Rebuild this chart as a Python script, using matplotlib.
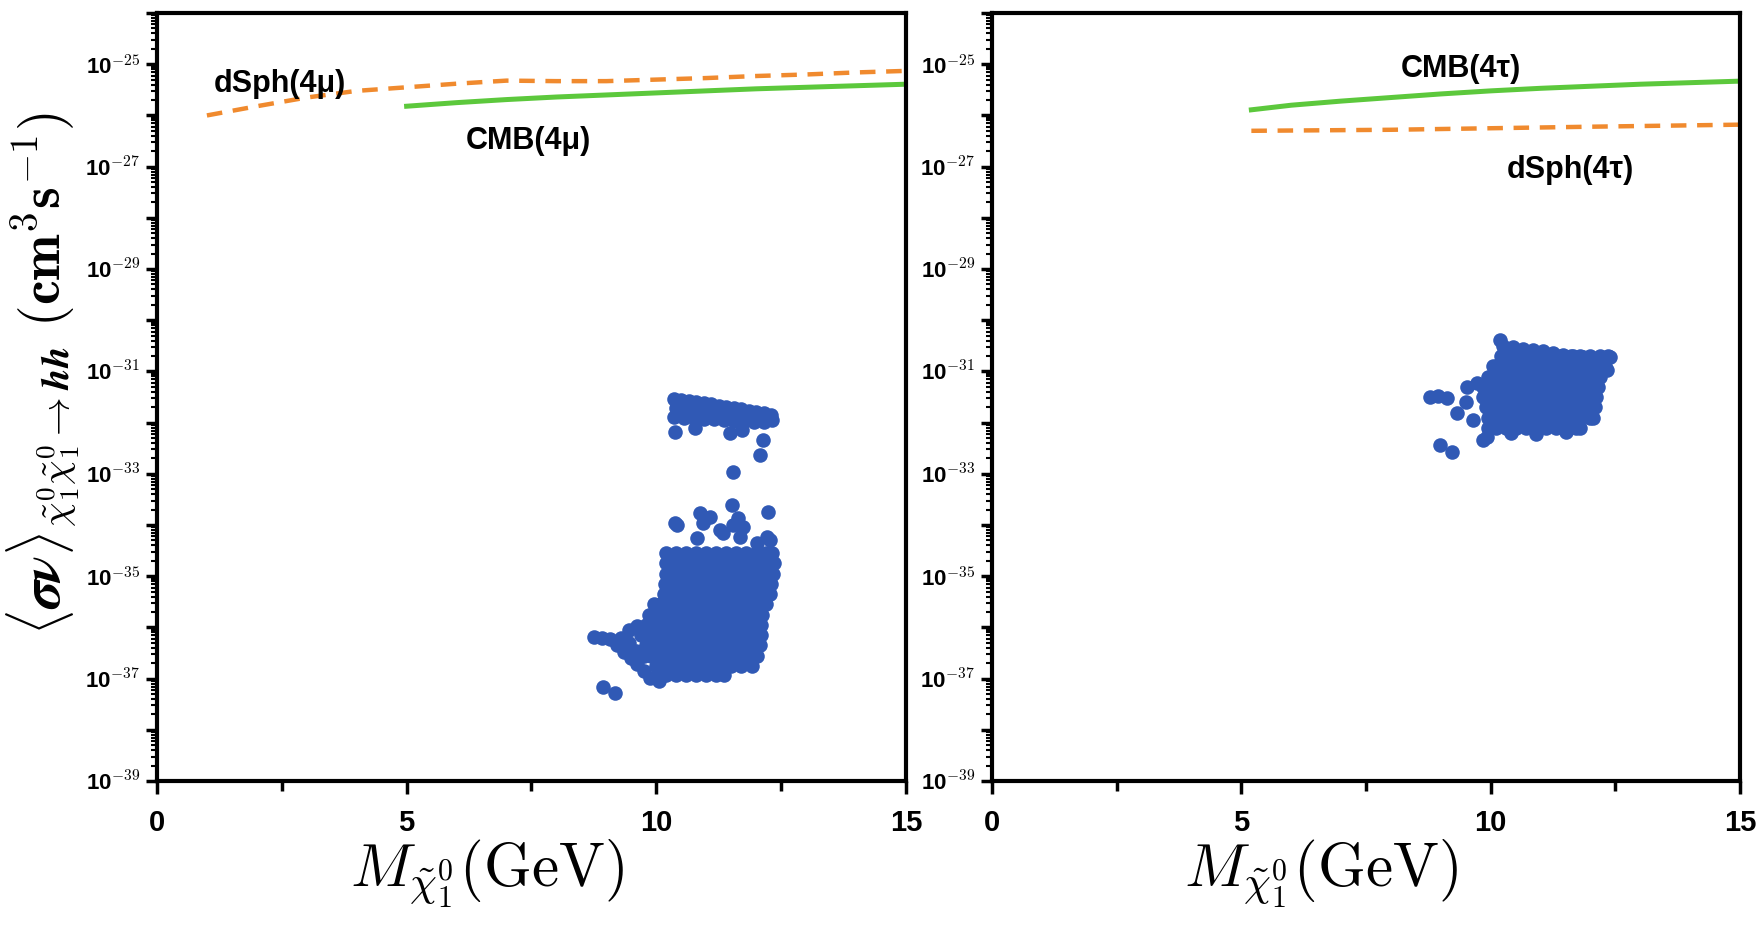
import numpy as np
import matplotlib
matplotlib.use("Agg")
import matplotlib.pyplot as plt
from matplotlib.ticker import FixedLocator, FuncFormatter, LogLocator, MultipleLocator

plt.rcParams.update({"mathtext.fontset": "cm",
                     "font.family": ["Liberation Sans Narrow", "Liberation Sans", "DejaVu Sans"],
                     "font.weight": "bold"})

BLUE, ORANGE, GREEN = "#3059b5", "#f08a2e", "#5cc83c"

# exclusion curves: mass (GeV) vs log10 <sigma v>
dsph_mu_m = [1, 2, 3, 4, 5, 6, 7, 8, 9, 10, 11, 12, 13, 14, 15]
dsph_mu_lg = [-26.0, -25.82, -25.65, -25.52, -25.45, -25.38, -25.32, -25.33, -25.33,
              -25.3, -25.27, -25.23, -25.2, -25.16, -25.13]
cmb_mu_m = [5, 6, 7, 8, 9, 10, 11, 12, 13, 14, 15]
cmb_mu_lg = [-25.82, -25.75, -25.69, -25.64, -25.6, -25.56, -25.52, -25.48, -25.45, -25.42, -25.39]
cmb_tau_m = [5.2, 6, 7, 8, 9, 10, 11, 12, 13, 14, 15]
cmb_tau_lg = [-25.89, -25.8, -25.72, -25.65, -25.58, -25.52, -25.47, -25.43, -25.39, -25.36, -25.33]
dsph_tau_m = [5.2, 8, 10, 12, 15]
dsph_tau_lg = [-26.3, -26.28, -26.25, -26.22, -26.18]

# scan points, 4mu panel: rows of masses sharing one log10 <sigma v>
mu_rows = [
    (-34.55, [10.2, 10.4, 10.6, 10.8, 11.0, 11.2, 11.4, 11.6, 11.8, 12.0, 12.2, 12.32]),
    (-34.75, [10.2, 10.3, 10.5, 10.7, 10.9, 11.1, 11.3, 11.5, 11.7, 11.9, 12.1, 12.3, 12.36]),
    (-34.95, [10.2, 10.4, 10.6, 10.8, 11.0, 11.2, 11.4, 11.6, 11.8, 12.0, 12.2, 12.34]),
    (-35.15, [10.18, 10.3, 10.5, 10.7, 10.9, 11.1, 11.3, 11.5, 11.7, 11.9, 12.1, 12.3]),
    (-35.35, [10.15, 10.4, 10.6, 10.8, 11.0, 11.2, 11.4, 11.6, 11.8, 12.0, 12.2, 12.28]),
    (-35.55, [9.95, 10.1, 10.3, 10.5, 10.7, 10.9, 11.1, 11.3, 11.5, 11.7, 11.9, 12.1, 12.2]),
    (-35.75, [9.85, 10.0, 10.2, 10.4, 10.6, 10.8, 11.0, 11.2, 11.4, 11.6, 11.8, 12.0, 12.12]),
    (-35.95, [9.8, 9.9, 10.1, 10.3, 10.5, 10.7, 10.9, 11.1, 11.3, 11.5, 11.7, 11.9, 12.1]),
    (-36.15, [9.75, 9.95, 10.0, 10.2, 10.4, 10.6, 10.8, 11.0, 11.2, 11.4, 11.6, 11.8, 12.0, 12.1]),
    (-36.35, [9.8, 9.9, 10.1, 10.3, 10.5, 10.7, 10.9, 11.1, 11.3, 11.5, 11.7, 11.9, 12.08]),
    (-36.55, [9.9, 10.0, 10.2, 10.4, 10.6, 10.8, 11.0, 11.2, 11.4, 11.6, 11.8, 12.02]),
    (-36.75, [10.0, 10.1, 10.3, 10.5, 10.7, 10.9, 11.1, 11.3, 11.5, 11.7, 11.92]),
    (-36.92, [10.05, 10.2, 10.4, 10.6, 10.8, 11.0, 11.2, 11.35]),
]
# upper band and scattered points of the 4mu panel
mu_extra_m = [10.35, 10.5, 10.65, 10.8, 10.95, 11.1, 11.25, 11.4, 11.55, 11.7, 11.85, 12.0, 12.15, 12.3,
              10.4, 10.6, 10.8, 11.0, 11.2, 11.4, 11.6, 11.8, 12.0, 12.2, 12.32,
              10.35, 10.55, 10.75, 10.95, 11.15, 11.35, 11.55, 11.75, 11.95, 12.15,
              10.37, 10.78, 11.48, 11.72, 12.14, 12.08, 11.54, 11.52, 12.24, 10.88, 11.08, 10.37,
              11.64, 11.74, 11.28, 12.22, 12.02, 10.82, 10.41, 10.94, 11.34, 11.68, 12.28, 11.54,
              8.75, 8.92, 9.08, 9.22, 9.35, 9.5, 9.62, 9.75, 9.88, 9.3, 9.45, 9.6, 9.45, 9.62,
              9.7, 9.75, 10.05, 8.93, 9.17]
mu_extra_lg = [-31.53, -31.55, -31.57, -31.6, -31.62, -31.64, -31.67, -31.69, -31.72, -31.74, -31.77,
               -31.79, -31.82, -31.85,
               -31.72, -31.74, -31.76, -31.78, -31.8, -31.82, -31.84, -31.86, -31.88, -31.9, -31.95,
               -31.88, -31.9, -31.9, -31.93, -31.93, -31.95, -31.96, -31.97, -31.98, -31.98,
               -32.18, -32.1, -32.2, -32.14, -32.34, -32.63, -32.96, -33.61, -33.75, -33.77, -33.84,
               -33.96, -33.86, -34.04, -34.1, -34.23, -34.35, -34.25, -34.0, -33.96, -34.16, -34.23,
               -34.29, -34.0, -36.18, -36.2, -36.22, -36.35, -36.48, -36.6, -36.72, -36.85, -36.98,
               -36.2, -36.3, -36.45, -36.05, -35.98, -36.15, -36.55, -37.05, -37.17, -37.28]

# scan points, 4tau panel
tau_rows = [
    (-30.7, [10.2, 10.4, 10.6, 10.8, 11.0, 11.2, 11.4, 11.6, 11.8, 12.0, 12.2, 12.36]),
    (-30.9, [10.05, 10.1, 10.3, 10.5, 10.7, 10.9, 11.1, 11.3, 11.5, 11.7, 11.9, 12.1, 12.3]),
    (-31.1, [9.95, 10.0, 10.2, 10.4, 10.6, 10.8, 11.0, 11.2, 11.4, 11.6, 11.8, 12.0, 12.2]),
    (-31.3, [9.85, 9.9, 10.1, 10.3, 10.5, 10.7, 10.9, 11.1, 11.3, 11.5, 11.7, 11.9, 12.1, 12.15]),
    (-31.5, [9.85, 10.0, 10.2, 10.4, 10.6, 10.8, 11.0, 11.2, 11.4, 11.6, 11.8, 12.0, 12.12]),
    (-31.7, [9.9, 10.1, 10.3, 10.5, 10.7, 10.9, 11.1, 11.3, 11.5, 11.7, 11.9, 12.1]),
    (-31.9, [9.95, 10.0, 10.2, 10.4, 10.6, 10.8, 11.0, 11.2, 11.4, 11.6, 11.8, 12.0, 12.05]),
    (-32.1, [9.95, 10.1, 10.3, 10.5, 10.7, 10.9, 11.1, 11.3, 11.5, 11.7, 11.8]),
]
tau_extra_m = [10.25, 10.45, 10.65, 10.85, 11.05, 11.25, 11.45, 11.65, 11.85, 12.05, 12.25,
               10.19, 12.39, 12.33, 8.78, 8.95, 9.12, 9.32, 9.52, 9.72, 9.65, 9.5, 9.85, 9.93, 8.98, 9.22,
               10.4, 10.9, 11.5]
tau_extra_lg = [-30.5, -30.53, -30.56, -30.58, -30.61, -30.64, -30.67, -30.7, -30.72, -30.75, -30.78,
                -30.39, -30.72, -30.97, -31.5, -31.48, -31.52, -31.81, -31.3, -31.23, -31.95, -31.6,
                -32.34, -32.28, -32.44, -32.57, -32.2, -32.22, -32.18]


def rows_to_xy(rows, xm, xl):
    m = [x for lg, xs in rows for x in xs] + list(xm)
    lg = [lg for lg, xs in rows for x in xs] + list(xl)
    return np.array(m), 10.0 ** np.array(lg)


def ylab(v, pos):
    e = int(round(np.log10(v)))
    return f"10$^{{\\mathsf{{{e}}}}}$" if e % 2 else ""


fig = plt.figure(figsize=(17.58, 9.31), dpi=100)
axL = fig.add_axes([0.0893, 0.161, 0.426, 0.825])
axR = fig.add_axes([0.5643, 0.161, 0.4255, 0.825])

dash = dict(ls=(0, (3.5, 2.4)), lw=3.2, color=ORANGE, zorder=2)
solid = dict(ls="-", lw=3.6, color=GREEN, zorder=2)

axL.plot(dsph_mu_m, 10.0 ** np.array(dsph_mu_lg), **dash)
axL.plot(cmb_mu_m, 10.0 ** np.array(cmb_mu_lg), **solid)
m, s = rows_to_xy(mu_rows, mu_extra_m, mu_extra_lg)
axL.scatter(m, s, s=110, color=BLUE, linewidths=0, zorder=3)
axL.text(2.46, 10 ** -25.39, "dSph(4\u03bc)", fontsize=22, ha="center", va="center")
axL.text(7.43, 10 ** -26.5, "CMB(4\u03bc)", fontsize=22, ha="center", va="center")

axR.plot(cmb_tau_m, 10.0 ** np.array(cmb_tau_lg), **solid)
axR.plot(dsph_tau_m, 10.0 ** np.array(dsph_tau_lg), **dash)
m, s = rows_to_xy(tau_rows, tau_extra_m, tau_extra_lg)
axR.scatter(m, s, s=110, color=BLUE, linewidths=0, zorder=3)
axR.text(9.40, 10 ** -25.1, "CMB(4\u03c4)", fontsize=22, ha="center", va="center")
axR.text(11.59, 10 ** -27.07, "dSph(4\u03c4)", fontsize=22, ha="center", va="center")

for ax in (axL, axR):
    ax.set_xlim(0, 15)
    ax.set_yscale("log")
    ax.set_ylim(1e-39, 1e-24)
    ax.xaxis.set_major_locator(MultipleLocator(5))
    ax.xaxis.set_minor_locator(MultipleLocator(2.5))
    ax.yaxis.set_major_locator(FixedLocator([10.0 ** e for e in range(-39, -23)]))
    ax.yaxis.set_major_formatter(FuncFormatter(ylab))
    ax.yaxis.set_minor_locator(LogLocator(base=10, subs=np.arange(2, 10), numticks=100))
    ax.tick_params(axis="x", which="major", direction="out", length=9, width=2.5, pad=11, labelsize=21)
    ax.tick_params(axis="x", which="minor", direction="out", length=7, width=2.5)
    ax.tick_params(axis="y", which="major", direction="out", length=8, width=2.5, pad=4, labelsize=16)
    ax.tick_params(axis="y", which="minor", direction="out", length=4, width=1.5)
    for sp in ax.spines.values():
        sp.set_linewidth(3)
    ax.set_xlabel(r"$M_{\tilde{\chi}_1^0}(\mathrm{GeV})$", fontsize=44)
    ax.xaxis.set_label_coords(0.44, -0.074)
    ax.xaxis.label.set_va("top")

axL.set_ylabel(r"$\boldsymbol{\langle\sigma\nu\rangle}_{\tilde{\chi}_1^0\tilde{\chi}_1^0\rightarrow \boldsymbol{hh}}"
               r"\ (\mathbf{cm^3s^{-1}})$", fontsize=40)
axL.yaxis.set_label_coords(-0.1, 0.53)

fig.savefig("out.png", dpi=100)
